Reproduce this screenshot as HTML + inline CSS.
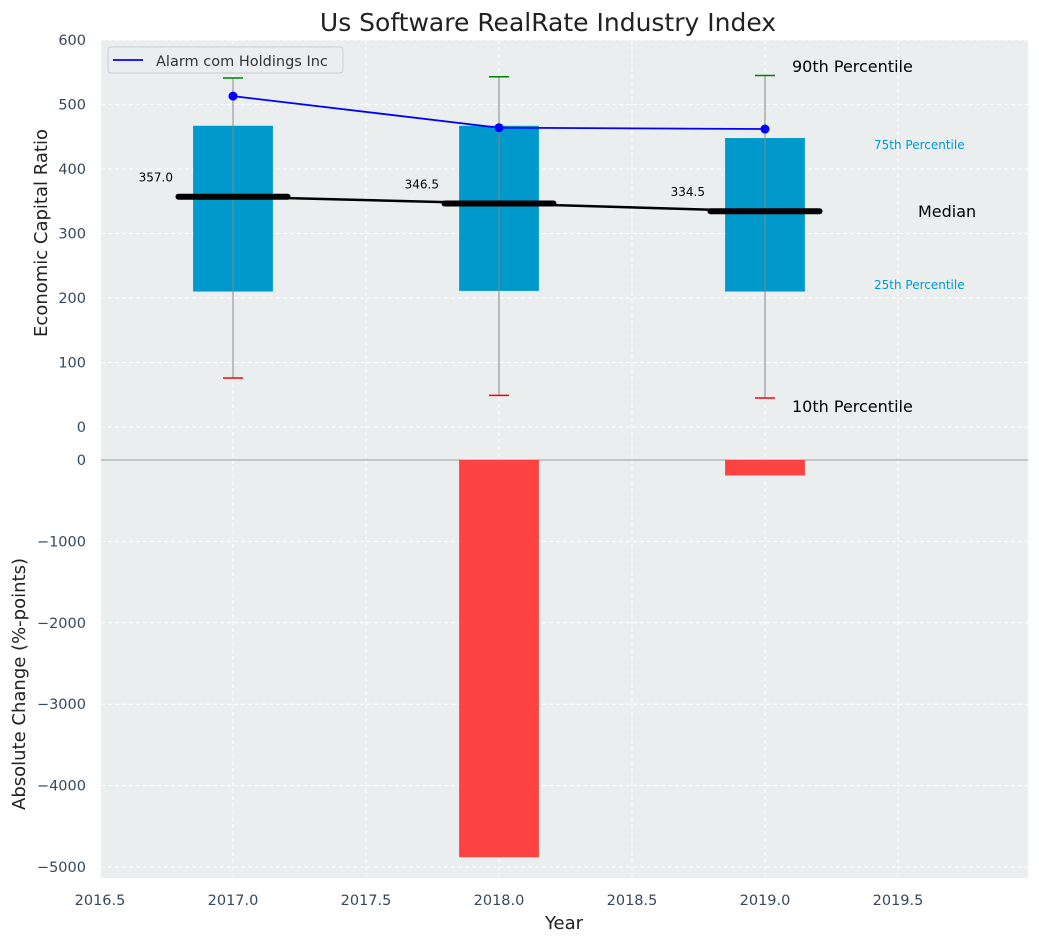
<!DOCTYPE html>
<html><head><meta charset="utf-8"><style>
body{margin:0;background:#fff;}
svg{display:block;font-family:"DejaVu Sans","Liberation Sans",sans-serif;}
</style></head><body>
<svg id="c" width="1039" height="942" xmlns="http://www.w3.org/2000/svg"></svg>
<script>
const years=[2017,2018,2019];
const q10=[76,49,45];
const q25=[210,211,210];
const medians=[357,346.5,334.5];
const q75=[467,467,448];
const q90=[541,543,545];
const company=[513,464,462];
const changes=[0,-4880,-190];
const xTicks=[2016.5,2017,2017.5,2018,2018.5,2019,2019.5];
const topTicks=[0,100,200,300,400,500,600];
const botTicks=[0,-1000,-2000,-3000,-4000,-5000];

const NS="http://www.w3.org/2000/svg";
const svg=document.getElementById('c');
const X=v=>100+(v-2016.5)*266;
const YT=v=>427-v*0.645;
const YB=v=>460-v*0.0814;
function el(t,a,txt){const e=document.createElementNS(NS,t);for(const k in a)e.setAttribute(k,a[k]);if(txt!==undefined)e.textContent=txt;svg.appendChild(e);return e;}

let bg=el('rect',{x:101,y:40,width:927,height:838,fill:'#eaeeef'});


xTicks.forEach(t=>{let g=el('line',{x1:X(t),x2:X(t),y1:40,y2:878,stroke:'#fff','stroke-dasharray':'4,3','stroke-width':1});

let l=el('text',{x:X(t),y:905,'text-anchor':'middle','font-size':14.5,fill:'#34495e'},t.toFixed(1));
});
topTicks.forEach(t=>{let g=el('line',{x1:101,x2:1028,y1:YT(t),y2:YT(t),stroke:'#fff','stroke-dasharray':'4,3'});

let l=el('text',{x:86,y:YT(t)+5,'text-anchor':'end','font-size':14.5,fill:'#34495e'},t);
});
botTicks.forEach(t=>{if(t!==0){let g=el('line',{x1:101,x2:1028,y1:YB(t),y2:YB(t),stroke:'#fff','stroke-dasharray':'4,3'});
}
let l=el('text',{x:86,y:YB(t)+5,'text-anchor':'end','font-size':14.5,fill:'#34495e'},String(t).replace('-','−'));
});
let zl=el('line',{x1:101,x2:1028,y1:YB(0),y2:YB(0),stroke:'#b8b8b8','stroke-width':1.5});


years.forEach((y,i)=>{
 let b=el('rect',{x:X(y-0.15),y:YT(q75[i]),width:266*0.3,height:YT(q25[i])-YT(q75[i]),fill:'#0099cc'});
 
 let w=el('line',{x1:X(y),x2:X(y),y1:YT(q90[i]),y2:YT(q10[i]),stroke:'#888','stroke-width':1});
 
 let h=el('line',{x1:X(y)-10,x2:X(y)+10,y1:YT(q90[i]),y2:YT(q90[i]),stroke:'green','stroke-width':1.5});
 
 let lo=el('line',{x1:X(y)-10,x2:X(y)+10,y1:YT(q10[i]),y2:YT(q10[i]),stroke:'red','stroke-width':1.5});
 
 let bb=el('rect',{x:X(y-0.15),y:Math.min(YB(0),YB(changes[i])),width:266*0.3,height:Math.abs(YB(changes[i])-YB(0)),fill:'#ff2a2a','fill-opacity':0.88});
 
});
let mp=el('polyline',{points:years.map((y,i)=>X(y)+','+YT(medians[i])).join(' '),fill:'none',stroke:'#000','stroke-width':2.5});

years.forEach((y,i)=>{
 let m=el('line',{x1:X(y-0.205),x2:X(y+0.205),y1:YT(medians[i]),y2:YT(medians[i]),stroke:'#000','stroke-width':6,'stroke-linecap':'round'});
 
 let t=el('text',{x:X(y)-60,y:YT(medians[i])-15,'text-anchor':'end','font-size':12,fill:'#000'},medians[i].toFixed(1));
 
});
let cl=el('polyline',{points:years.map((y,i)=>X(y)+','+YT(company[i])).join(' '),fill:'none',stroke:'#0000ff','stroke-width':1.8});

years.forEach((y,i)=>{let c=el('circle',{cx:X(y),cy:YT(company[i]),r:4.5,fill:'#0000ff'});
});

[[792,72,'90th Percentile',16,'#000','p90-annotation'],[874,149,'75th Percentile',12,'#0099cc','p75-annotation'],
 [918,217,'Median',16,'#000','median-annotation'],[874,289,'25th Percentile',12,'#0099cc','p25-annotation'],
 [792,412,'10th Percentile',16,'#000','p10-annotation']].forEach(a=>{
 let t=el('text',{x:a[0],y:a[1],'font-size':a[3],fill:a[4]},a[2]);
 });

let lg=el('rect',{x:108,y:47,width:235,height:26,rx:3,fill:'#eaeef1',stroke:'#ccc'});

let ll=el('line',{x1:113,x2:143,y1:60,y2:60,stroke:'#0000ff','stroke-width':1.8});

let lt=el('text',{x:156,y:66,'font-size':14.5,fill:'#333'},'Alarm com Holdings Inc');


let ti=el('text',{x:548,y:31,'text-anchor':'middle','font-size':25,fill:'#222'},'Us Software RealRate Industry Index');

let xt=el('text',{x:564,y:929,'text-anchor':'middle','font-size':18,fill:'#222'},'Year');

let y1=el('text',{x:0,y:0,'text-anchor':'middle','font-size':18,fill:'#222',transform:'translate(47,233) rotate(-90)'},'Economic Capital Ratio');

let y2=el('text',{x:0,y:0,'text-anchor':'middle','font-size':18,fill:'#222',transform:'translate(25,684) rotate(-90)'},'Absolute Change (%-points)');

</script>
</body></html>
